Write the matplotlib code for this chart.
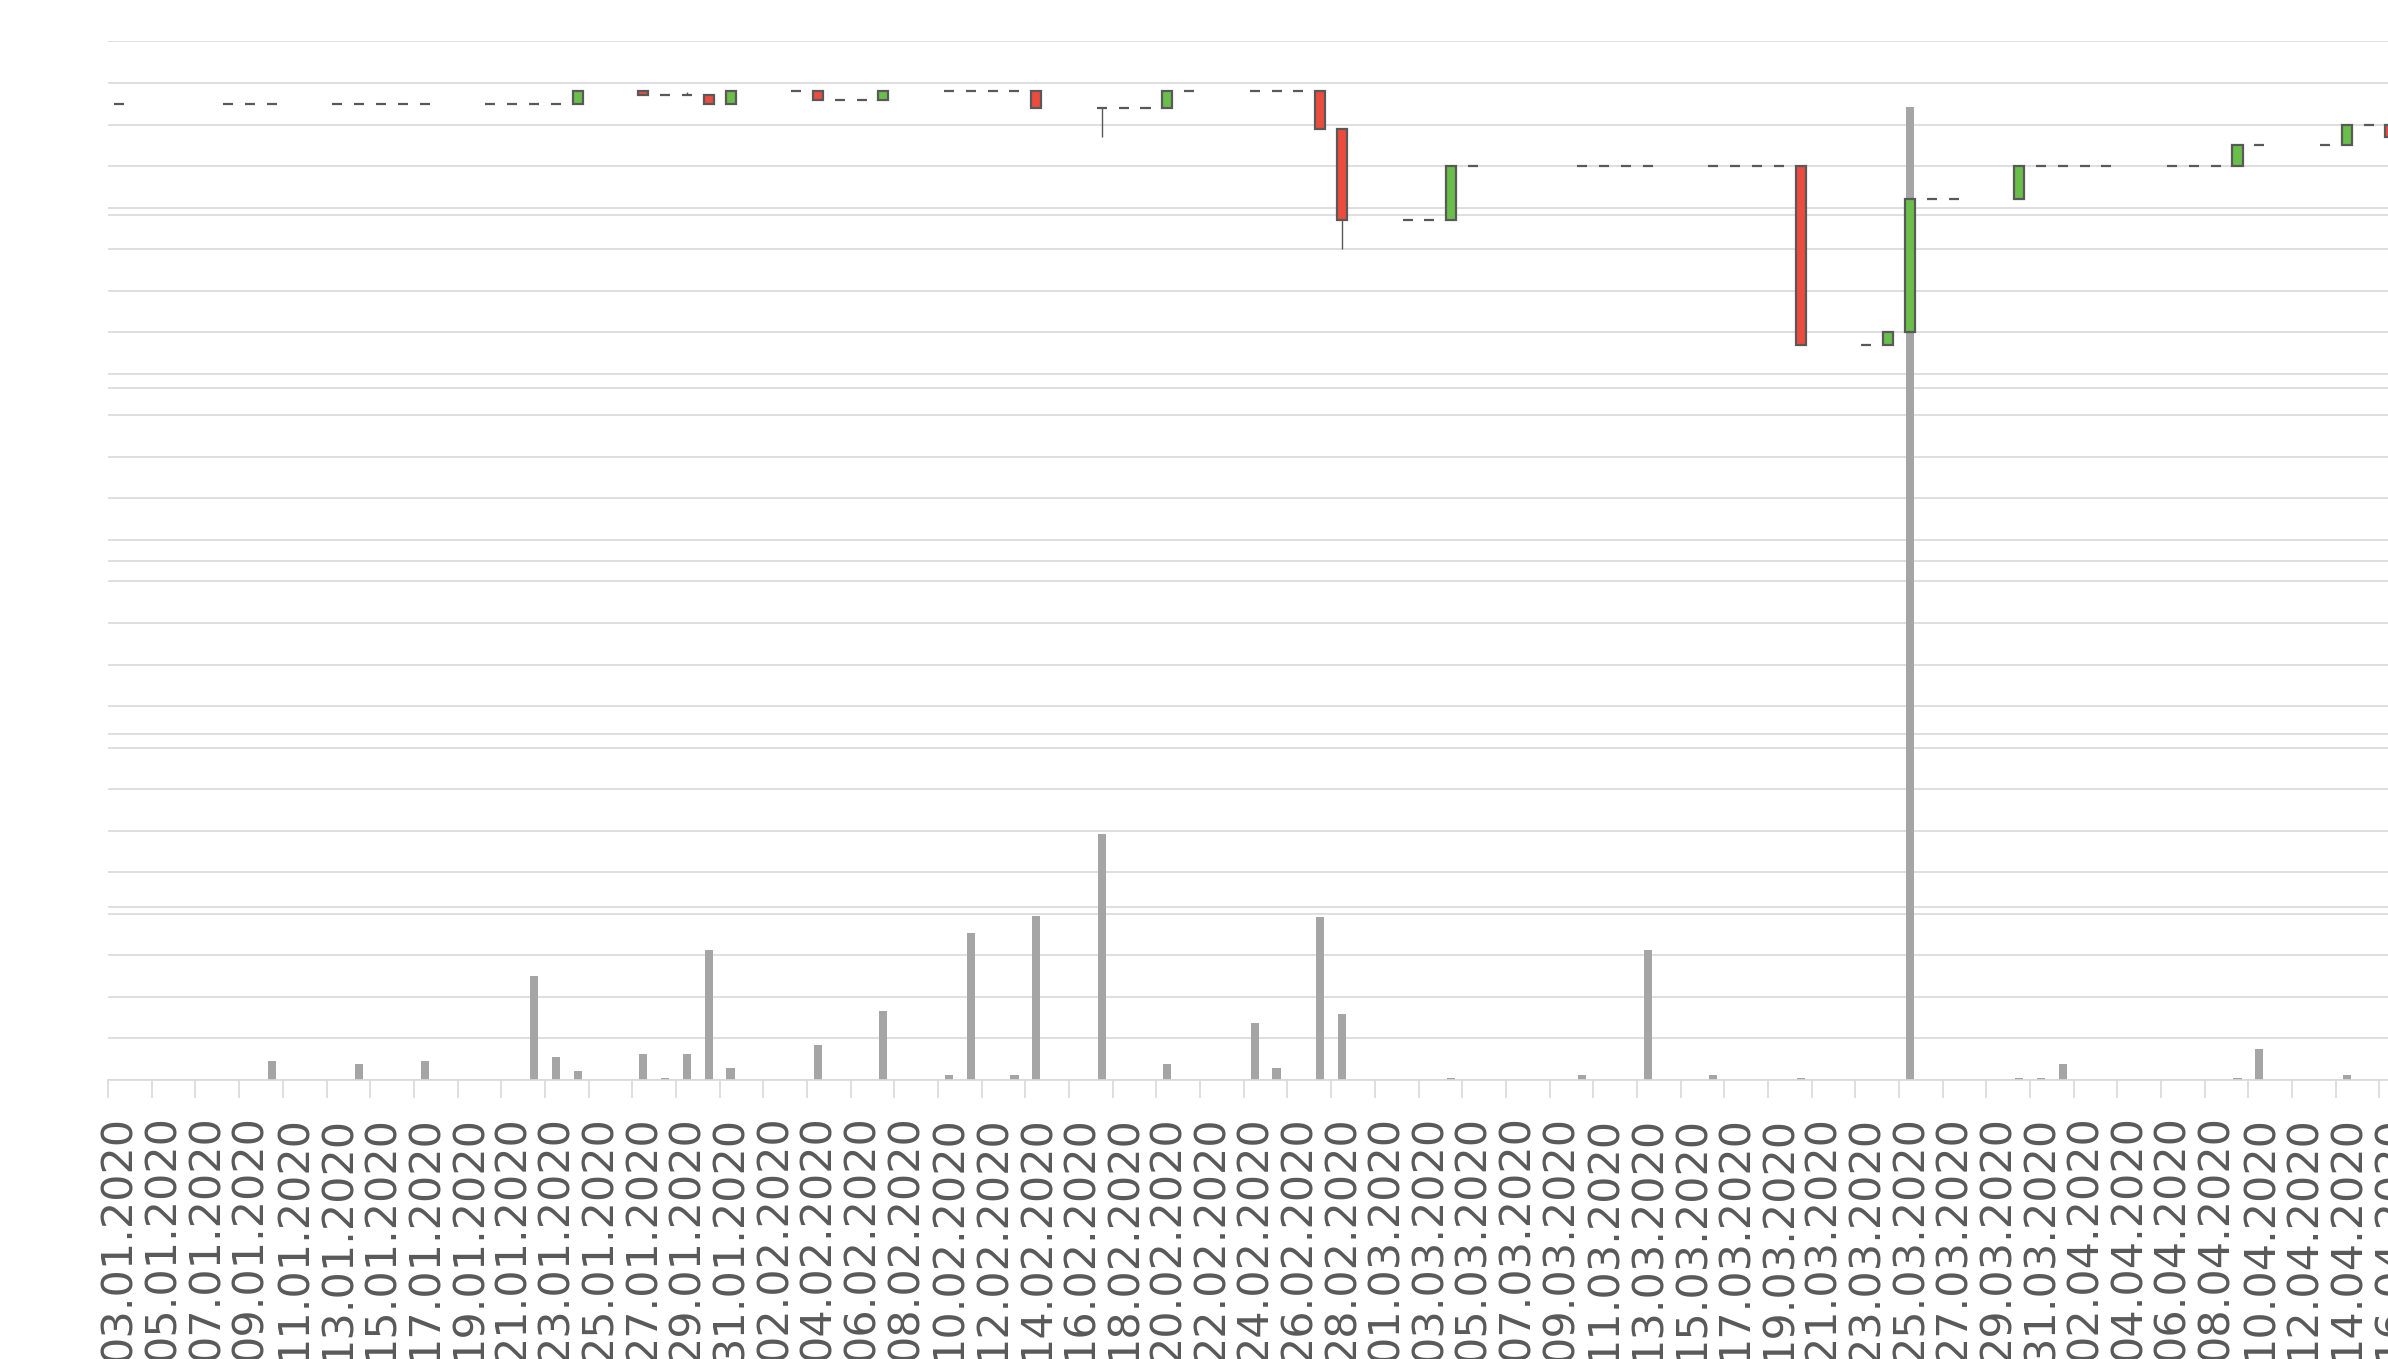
import matplotlib
matplotlib.use("Agg")
import matplotlib.dates as mdates
import matplotlib.pyplot as plt
import numpy as np
import pandas as pd
from matplotlib.ticker import FixedLocator, MultipleLocator, NullFormatter

# trading days shown on the chart (dd.mm.yyyy)
DATES = [
    "03.01.2020", "08.01.2020", "09.01.2020", "10.01.2020", "13.01.2020",
    "14.01.2020", "15.01.2020", "16.01.2020", "17.01.2020", "20.01.2020",
    "21.01.2020", "22.01.2020", "23.01.2020", "24.01.2020", "27.01.2020",
    "28.01.2020", "29.01.2020", "30.01.2020", "31.01.2020",
    "03.02.2020", "04.02.2020", "05.02.2020", "06.02.2020", "07.02.2020",
    "10.02.2020", "11.02.2020", "12.02.2020", "13.02.2020", "14.02.2020",
    "17.02.2020", "18.02.2020", "19.02.2020", "20.02.2020", "21.02.2020",
    "24.02.2020", "25.02.2020", "26.02.2020", "27.02.2020", "28.02.2020",
    "02.03.2020", "03.03.2020", "04.03.2020", "05.03.2020", "10.03.2020",
    "11.03.2020", "12.03.2020", "13.03.2020", "16.03.2020", "17.03.2020",
    "18.03.2020", "19.03.2020", "20.03.2020", "23.03.2020", "24.03.2020",
    "25.03.2020", "26.03.2020", "27.03.2020", "30.03.2020", "31.03.2020",
    "01.04.2020", "02.04.2020", "03.04.2020", "06.04.2020", "07.04.2020",
    "08.04.2020", "09.04.2020", "10.04.2020", "13.04.2020", "14.04.2020",
    "15.04.2020", "16.04.2020",
]

OPEN = [
    23.5, 23.5, 23.5, 23.5, 23.5, 23.5, 23.5, 23.5, 23.5, 23.5,
    23.5, 23.5, 23.5, 23.5, 23.8, 23.7, 23.7, 23.7, 23.5,
    23.8, 23.8, 23.6, 23.6, 23.6, 23.8, 23.8, 23.8, 23.8, 23.8,
    23.4, 23.4, 23.4, 23.4, 23.8, 23.8, 23.8, 23.8, 23.8, 22.9,
    20.7, 20.7, 20.7, 22.0, 22.0, 22.0, 22.0, 22.0, 22.0, 22.0,
    22.0, 22.0, 22.0, 17.7, 17.7, 18.0, 21.2, 21.2, 21.2, 22.0,
    22.0, 22.0, 22.0, 22.0, 22.0, 22.0, 22.0, 22.5, 22.5, 22.5,
    23.0, 23.0,
]
CLOSE = [
    23.5, 23.5, 23.5, 23.5, 23.5, 23.5, 23.5, 23.5, 23.5, 23.5,
    23.5, 23.5, 23.5, 23.8, 23.7, 23.7, 23.7, 23.5, 23.8,
    23.8, 23.6, 23.6, 23.6, 23.8, 23.8, 23.8, 23.8, 23.8, 23.4,
    23.4, 23.4, 23.4, 23.8, 23.8, 23.8, 23.8, 23.8, 22.9, 20.7,
    20.7, 20.7, 22.0, 22.0, 22.0, 22.0, 22.0, 22.0, 22.0, 22.0,
    22.0, 22.0, 17.7, 17.7, 18.0, 21.2, 21.2, 21.2, 22.0, 22.0,
    22.0, 22.0, 22.0, 22.0, 22.0, 22.0, 22.5, 22.5, 22.5, 23.0,
    23.0, 22.7,
]
HIGH = [
    23.5, 23.5, 23.5, 23.5, 23.5, 23.5, 23.5, 23.5, 23.5, 23.5,
    23.5, 23.5, 23.5, 23.8, 23.8, 23.7, 23.78, 23.7, 23.8,
    23.8, 23.8, 23.6, 23.6, 23.8, 23.8, 23.8, 23.8, 23.8, 23.8,
    23.4, 23.4, 23.4, 23.8, 23.8, 23.8, 23.8, 23.8, 23.8, 22.9,
    20.7, 20.7, 22.0, 22.0, 22.0, 22.0, 22.0, 22.0, 22.0, 22.0,
    22.0, 22.0, 22.0, 17.7, 18.0, 21.2, 21.2, 21.2, 22.0, 22.0,
    22.0, 22.0, 22.0, 22.0, 22.0, 22.0, 22.5, 22.5, 22.5, 23.0,
    23.0, 23.0,
]
LOW = [
    23.5, 23.5, 23.5, 23.5, 23.5, 23.5, 23.5, 23.5, 23.5, 23.5,
    23.5, 23.5, 23.5, 23.5, 23.7, 23.7, 23.7, 23.5, 23.5,
    23.8, 23.6, 23.6, 23.6, 23.6, 23.8, 23.8, 23.8, 23.8, 23.4,
    22.7, 23.4, 23.4, 23.4, 23.8, 23.8, 23.8, 23.8, 22.9, 20.0,
    20.7, 20.7, 20.7, 22.0, 22.0, 22.0, 22.0, 22.0, 22.0, 22.0,
    22.0, 22.0, 17.7, 17.7, 17.7, 18.0, 21.2, 21.2, 21.2, 22.0,
    22.0, 22.0, 22.0, 22.0, 22.0, 22.0, 22.0, 22.5, 22.5, 22.5,
    23.0, 22.7,
]
VOLUME = [
    0, 0, 0, 11, 0, 9, 0, 0, 11, 0,
    0, 60, 13, 5, 15, 1, 15, 75, 7,
    0, 20, 0, 0, 40, 3, 85, 0, 3, 95,
    142, 0, 0, 9, 0, 33, 7, 0, 94, 38,
    0, 0, 1, 0, 3, 0, 0, 75, 3, 0,
    0, 0, 1, 0, 0, 562, 0, 0, 1, 1,
    9, 0, 0, 0, 0, 0, 1, 18, 0, 3,
    0, 0,
]

UP_COLOR = "#6abf4b"
DOWN_COLOR = "#ee4b3f"
EDGE_COLOR = "#595959"
VOL_COLOR = "#a5a5a5"
GRID_COLOR = "#d9d9d9"
TEXT_COLOR = "#595959"

dates = pd.to_datetime(DATES, format="%d.%m.%Y")
x = mdates.date2num(dates)
o = np.array(OPEN)
c = np.array(CLOSE)
h = np.array(HIGH)
l = np.array(LOW)
vol = np.array(VOLUME)

# plot area runs past the right edge of the picture, as in the original
W, H = 2388, 1359
left_px, day_px, overhang_px = 108.1, 21.84, 80

fig = plt.figure(figsize=(W / 100, H / 100), dpi=100)
ax_vol = fig.add_axes([left_px / W, 0.2053, (W + overhang_px - left_px) / W, 0.7642])
ax_px = ax_vol.twinx()

# volume on the primary axis, drawn underneath the candles
ax_vol.bar(x, vol, width=0.37, color=VOL_COLOR, linewidth=0, zorder=2)
ax_vol.set_ylim(0, 600)
ax_vol.yaxis.set_major_locator(MultipleLocator(100))
# price gridlines (25 steps) drawn on the volume axis so bars stay in front
ax_vol.yaxis.set_minor_locator(MultipleLocator(600 / 25))
ax_vol.set_axisbelow(True)
ax_vol.grid(True, axis="y", which="both", color=GRID_COLOR, linewidth=1.2, zorder=0)

# candles on the secondary axis
ax_px.vlines(x, l, h, color=EDGE_COLOR, linewidth=1.0, zorder=3)
up = c >= o
ax_px.bar(x[up], (c - o)[up], bottom=o[up], width=0.46, color=UP_COLOR,
          edgecolor=EDGE_COLOR, linewidth=1.6, zorder=4)
ax_px.bar(x[~up], (o - c)[~up], bottom=c[~up], width=0.46, color=DOWN_COLOR,
          edgecolor=EDGE_COLOR, linewidth=1.6, zorder=4)
ax_px.set_ylim(0, 25)

start = mdates.date2num(pd.Timestamp("2020-01-03"))
ax_vol.set_xlim(start - 0.5, start - 0.5 + (W + overhang_px - left_px) / day_px)

label_days = pd.date_range("2020-01-03", "2020-04-16", freq="2D")
label_pos = mdates.date2num(label_days)
ax_vol.xaxis.set_major_locator(FixedLocator(label_pos))
ax_vol.set_xticklabels([d.strftime("%d.%m.%Y") for d in label_days])
ax_vol.xaxis.set_minor_locator(FixedLocator(label_pos - 0.5))
ax_vol.xaxis.set_minor_formatter(NullFormatter())
ax_vol.tick_params(axis="x", which="major", length=0, pad=25.5,
                   labelsize=31, labelcolor=TEXT_COLOR, labelrotation=90)
ax_vol.tick_params(axis="x", which="minor", length=12.7, width=1.2, color=GRID_COLOR)

for ax in (ax_vol, ax_px):
    ax.tick_params(axis="y", which="both", left=False, right=False,
                   labelleft=False, labelright=False)
    for side in ("top", "left", "right", "bottom"):
        ax.spines[side].set_visible(False)
ax_vol.spines["bottom"].set_visible(True)
ax_vol.spines["bottom"].set_color(GRID_COLOR)
ax_vol.spines["bottom"].set_linewidth(1.2)

fig.savefig("out.png", dpi=100)
